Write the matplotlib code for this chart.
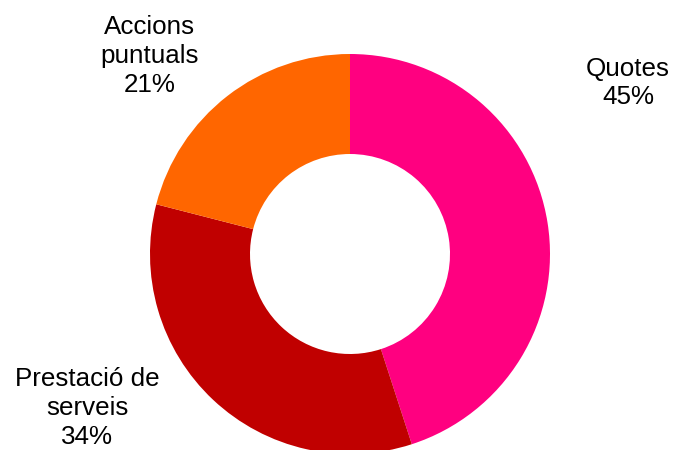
import matplotlib.pyplot as plt

# Distribució dels ingressos
categories = ['Quotes', 'Prestació de\nserveis', 'Accions\npuntuals']
percentatges = [45, 34, 21]
colors = ['#FF0080', '#C00000', '#FF6600']

plt.rcParams['font.family'] = ['Liberation Sans', 'DejaVu Sans']

fig = plt.figure(figsize=(6.73, 4.5), dpi=100)
ax = fig.add_axes([0, 0, 1, 1])

wedges, _ = ax.pie(percentatges, colors=colors, startangle=90,
                   counterclock=False, center=(350, 196), radius=200,
                   wedgeprops=dict(width=100, linewidth=0))

# etiquetes fora de l'anell
posicions = [(628, 367), (87, 42), (150, 394)]
for nom, pct, (x, y) in zip(categories, percentatges, posicions):
    ax.text(x, y, f'{nom}\n{pct}%', ha='center', va='center',
            fontsize=18.7, color='black', linespacing=1.25)

ax.set_xlim(0, 673)
ax.set_ylim(0, 450)
ax.set_aspect('equal')
ax.axis('off')

fig.savefig('out.png', dpi=100)
